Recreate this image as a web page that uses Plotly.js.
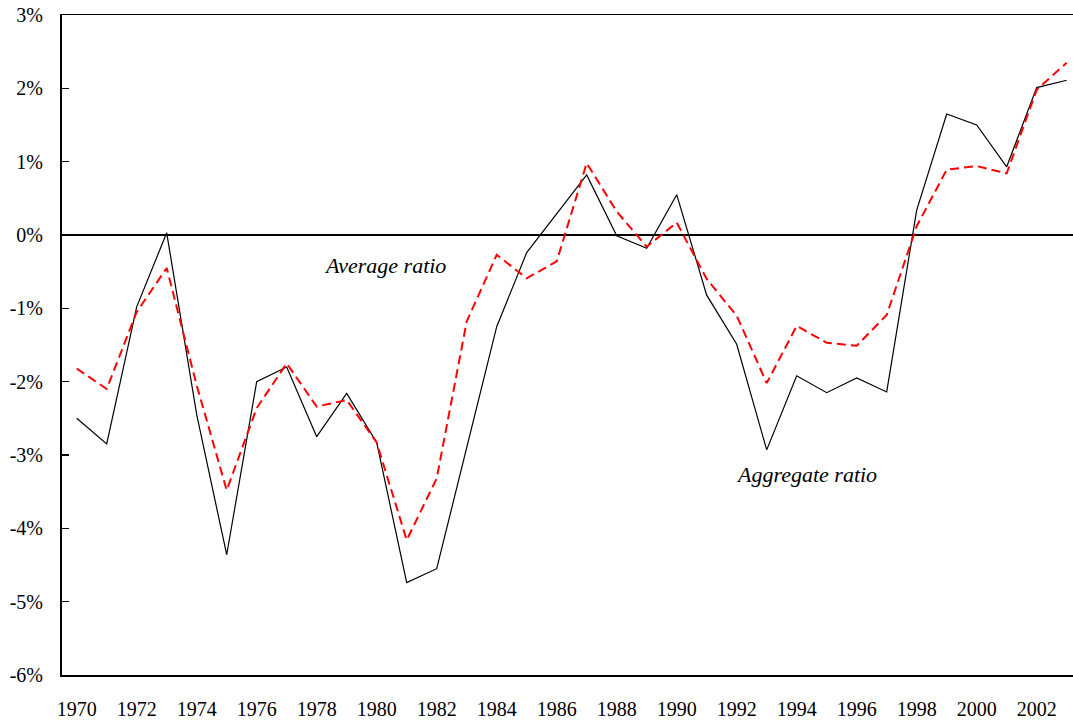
<!DOCTYPE html>
<html>
<head>
<meta charset="utf-8">
<script src="https://cdn.plot.ly/plotly-3.0.1.min.js"></script>
<style>html,body{margin:0;padding:0;background:#fff;}#chart{width:1073px;height:725px;}</style>
</head>
<body>
<div id="chart"></div>
<script>
var years = [1970,1971,1972,1973,1974,1975,1976,1977,1978,1979,1980,1981,1982,1983,1984,1985,1986,1987,1988,1989,1990,1991,1992,1993,1994,1995,1996,1997,1998,1999,2000,2001,2002,2003];
var aggregateRatio = [-2.50,-2.85,-0.98,0.03,-2.45,-4.36,-2.00,-1.80,-2.75,-2.16,-2.83,-4.74,-4.55,-2.92,-1.25,-0.24,0.29,0.82,-0.01,-0.18,0.55,-0.82,-1.49,-2.93,-1.92,-2.15,-1.95,-2.14,0.34,1.65,1.50,0.93,2.01,2.11];
var averageRatio = [-1.82,-2.10,-1.05,-0.45,-2.05,-3.48,-2.36,-1.75,-2.34,-2.25,-2.83,-4.16,-3.32,-1.18,-0.27,-0.59,-0.36,0.98,0.32,-0.16,0.17,-0.60,-1.10,-2.02,-1.24,-1.47,-1.51,-1.09,0.12,0.89,0.94,0.84,1.98,2.35];
var xTickVals = [1970,1972,1974,1976,1978,1980,1982,1984,1986,1988,1990,1992,1994,1996,1998,2000,2002];
var xTickText = ['1970','1972','1974','1976','1978','1980','1982','1984','1986','1988','1990','1992','1994','1996','1998','2000','2002'];
var yTickVals = [-6,-5,-4,-3,-2,-1,0,1,2,3];
var yTickText = ['-6%','-5%','-4%','-3%','-2%','-1%','0%','1%','2%','3%'];
var labelAverage = 'Average ratio';
var labelAggregate = 'Aggregate ratio';

var serif = 'Liberation Serif, Times New Roman, DejaVu Serif, serif';

var traces = [
  {x: years, y: aggregateRatio, type: 'scatter', mode: 'lines', name: labelAggregate,
   line: {color: '#000000', width: 1.2}},
  {x: years, y: averageRatio, type: 'scatter', mode: 'lines', name: labelAverage,
   line: {color: '#ff0000', width: 2, dash: '9px,5px'}}
];

var layout = {
  width: 1073, height: 725,
  margin: {l: 62, r: 0, t: 15, b: 50},
  paper_bgcolor: '#ffffff', plot_bgcolor: '#ffffff',
  showlegend: false,
  font: {family: serif, color: '#000000', size: 20},
  xaxis: {
    range: [1969.51, 2003.21],
    tickmode: 'array', tickvals: xTickVals, ticktext: xTickText,
    showline: true, linecolor: '#000000', linewidth: 1.5, mirror: true,
    ticks: '', showgrid: false, zeroline: false,
    tickfont: {family: serif, size: 20, color: '#000000'},
    ticklabelstandoff: 15
  },
  yaxis: {
    range: [-6, 3],
    tickmode: 'array', tickvals: yTickVals, ticktext: yTickText,
    showline: true, linecolor: '#000000', linewidth: 2,
    ticks: 'inside', ticklen: 7, tickwidth: 1.2, tickcolor: '#000000',
    showgrid: false,
    zeroline: true, zerolinecolor: '#000000', zerolinewidth: 1.5,
    tickfont: {family: serif, size: 20, color: '#000000'},
    ticklabelstandoff: 13
  },
  annotations: [
    {x: 1980.28, y: -0.41, xref: 'x', yref: 'y', text: labelAverage, showarrow: false,
     font: {family: serif, size: 22, style: 'italic', color: '#000000'}},
    {x: 1994.34, y: -3.26, xref: 'x', yref: 'y', text: labelAggregate, showarrow: false,
     font: {family: serif, size: 22, style: 'italic', color: '#000000'}}
  ]
};

Plotly.newPlot('chart', traces, layout, {staticPlot: true, displayModeBar: false});
</script>
</body>
</html>
